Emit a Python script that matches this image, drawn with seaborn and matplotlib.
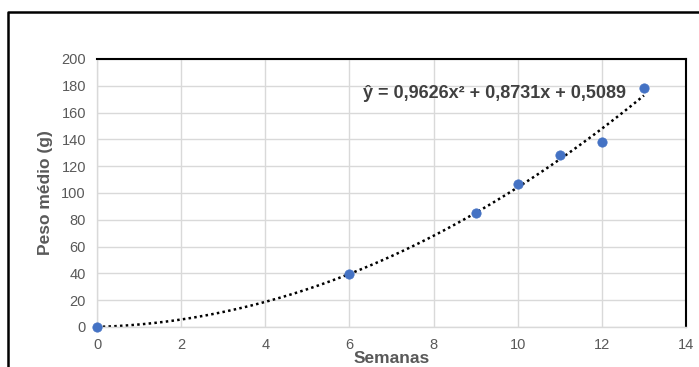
import numpy as np
import pandas as pd
import seaborn as sns
import matplotlib.pyplot as plt
from matplotlib.lines import Line2D

   #data.
semanas = [0, 6, 9, 10, 11, 12, 13]
peso = [0, 39.5, 85, 106.5, 128, 138, 178]
equacao = "ŷ = 0,9626x² + 0,8731x + 0,5089"
xticks = np.arange(0, 15, 2)
yticks = np.arange(0, 201, 20)

df = pd.DataFrame({"Semanas": semanas, "Peso": peso})

sns.set_style("white")
plt.rcParams["font.family"] = ["Liberation Sans", "DejaVu Sans"]

fig = plt.figure(figsize=(6.99, 3.67), dpi=100)
ax = fig.add_axes([97 / 699, 1 - 327 / 367, (686 - 97) / 699, (327 - 59) / 367])

   #trendline (2nd order) + points.
sns.regplot(data=df, x="Semanas", y="Peso", order=2, ci=None, scatter=False, ax=ax,
            line_kws=dict(color="black", linestyle=(0, (1, 1.3)), linewidth=1.8))
sns.scatterplot(data=df, x="Semanas", y="Peso", ax=ax, color="#4472C4", s=45,
                edgecolor="#4472C4", zorder=3, clip_on=False)

ax.set_xlim(0, 14)
ax.set_ylim(0, 200)
ax.set_xticks(xticks)
ax.set_yticks(yticks)
ax.grid(True, color="#D9D9D9", linewidth=1)
ax.tick_params(axis="both", colors="#595959", labelsize=10.5, length=0, pad=8)

for s in ["left", "bottom"]:
    ax.spines[s].set_color("#D9D9D9")
    ax.spines[s].set_linewidth(1)
for s in ["top", "right"]:
    ax.spines[s].set_color("black")
    ax.spines[s].set_linewidth(1.5)

ax.set_xlabel("Semanas", fontsize=12.5, fontweight="bold", color="#595959", labelpad=-1)
ax.set_ylabel("Peso médio (g)", fontsize=12.5, fontweight="bold", color="#595959", labelpad=6)

ax.text(6.33, 174.5, equacao, fontsize=13, fontweight="bold", color="#404040",
        va="center", ha="left")

   #outer frame of the chart (cropped).
fig.add_artist(Line2D([8 / 699, 8 / 699, 1], [0, 1 - 12 / 367, 1 - 12 / 367],
                      color="black", linewidth=1.8, transform=fig.transFigure))

fig.savefig("out.png", dpi=100)
